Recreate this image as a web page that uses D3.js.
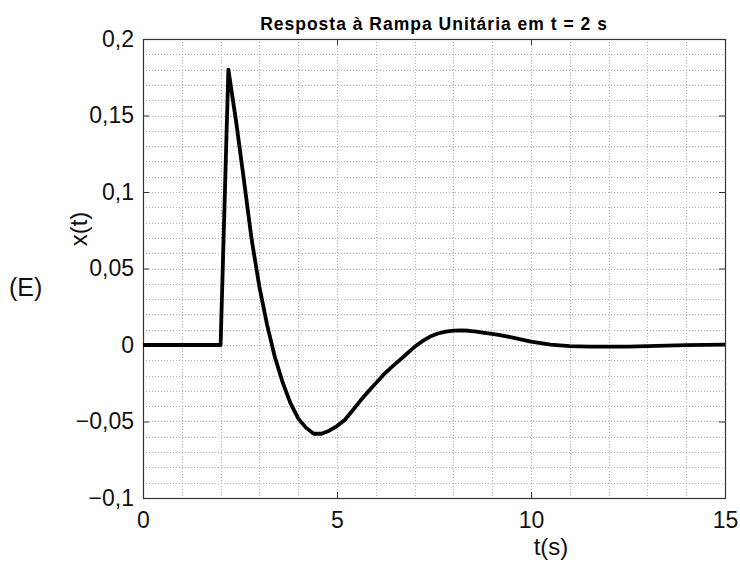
<!DOCTYPE html>
<html>
<head>
<meta charset="utf-8">
<script src="https://cdn.jsdelivr.net/npm/d3@7"></script>
<style>
  body { margin: 0; background: #fff; }
  svg { font-family: "Liberation Sans", Arial, sans-serif; }
</style>
</head>
<body>
<script>
// time samples (s)
var tData = [0, 2.0, 2.2, 2.4, 2.6, 2.8, 3.0, 3.2, 3.4, 3.6, 3.8, 4.0, 4.2, 4.4, 4.6, 4.8,
  5.0, 5.2, 5.4, 5.6, 5.8, 6.0, 6.2, 6.4, 6.6, 6.8, 7.0, 7.2, 7.4, 7.6, 7.8, 8.0, 8.2,
  8.4, 8.6, 8.8, 9.0, 9.2, 9.5, 10.0, 10.5, 11.0, 11.5, 12.0, 12.5, 13.0, 13.5, 14.0, 14.5, 15.0];
// response x(t)
var xData = [0, 0, 0.180, 0.146, 0.108, 0.069, 0.038, 0.013, -0.008, -0.0245, -0.038, -0.048,
  -0.054, -0.058, -0.058, -0.056, -0.053, -0.049, -0.0428, -0.0365, -0.0305, -0.025, -0.0194,
  -0.0146, -0.0102, -0.0057, -0.0012, 0.0025, 0.0055, 0.0075, 0.0088, 0.0094, 0.0095, 0.0093,
  0.0088, 0.008, 0.0072, 0.0064, 0.005, 0.0022, 0.0002, -0.0008, -0.001, -0.001, -0.001,
  -0.0007, -0.0004, -0.0001, 0.0001, 0.0003];

var xTicks = [0, 5, 10, 15];
var yTicks = [-0.1, -0.05, 0, 0.05, 0.1, 0.15, 0.2];
var xGrid = d3.range(1, 15, 1);
var yGrid = d3.range(-0.09, 0.2, 0.01);

var chartTitle = "Resposta à Rampa Unitária em t = 2 s";
var xLabel = "t(s)";
var yLabel = "x(t)";
var panelLabel = "(E)";

var width = 740, height = 563;
var plotL = 143, plotR = 725, plotT = 39, plotB = 498;

var svg = d3.select("body").append("svg")
  .attr("width", width)
  .attr("height", height);

var x = d3.scaleLinear().domain([0, 15]).range([plotL, plotR]);
var y = d3.scaleLinear().domain([-0.1, 0.2]).range([plotB, plotT]);

// format with comma decimal and real minus sign
function fmt(v) {
  var s = d3.format("~g")(+v.toFixed(3));
  return s.replace(".", ",").replace("-", "\u2212");
}

// dotted grid
svg.append("g").selectAll("line").data(xGrid).enter().append("line")
  .attr("x1", function(d) { return Math.round(x(d)) + 0.5; })
  .attr("x2", function(d) { return Math.round(x(d)) + 0.5; })
  .attr("y1", plotT).attr("y2", plotB)
  .attr("stroke", "#b4b4b4").attr("stroke-width", 1)
  .attr("stroke-dasharray", "1,2");

svg.append("g").selectAll("line").data(yGrid).enter().append("line")
  .attr("x1", plotL).attr("x2", plotR)
  .attr("y1", function(d) { return Math.round(y(d)) + 0.5; })
  .attr("y2", function(d) { return Math.round(y(d)) + 0.5; })
  .attr("stroke", "#b4b4b4").attr("stroke-width", 1)
  .attr("stroke-dasharray", "1,2");

// axes with inward ticks
svg.append("g").attr("transform", "translate(0," + plotB + ")")
  .call(d3.axisBottom(x).tickValues(xTicks).tickSize(-6).tickPadding(14).tickFormat(fmt))
  .call(function(g) {
    g.select(".domain").remove();
    g.selectAll("text").attr("font-size", 23).attr("fill", "#111");
    g.selectAll("line").attr("stroke", "#333");
  });

svg.append("g").attr("transform", "translate(0," + plotT + ")")
  .call(d3.axisTop(x).tickValues(xTicks).tickSize(-6).tickFormat(""))
  .call(function(g) {
    g.select(".domain").remove();
    g.selectAll("line").attr("stroke", "#333");
  });

svg.append("g").attr("transform", "translate(" + plotL + ",0)")
  .call(d3.axisLeft(y).tickValues(yTicks).tickSize(-6).tickPadding(9).tickFormat(fmt))
  .call(function(g) {
    g.select(".domain").remove();
    g.selectAll("text").attr("font-size", 23).attr("fill", "#111");
    g.selectAll("line").attr("stroke", "#333");
  });

svg.append("g").attr("transform", "translate(" + plotR + ",0)")
  .call(d3.axisRight(y).tickValues(yTicks).tickSize(-6).tickFormat(""))
  .call(function(g) {
    g.select(".domain").remove();
    g.selectAll("line").attr("stroke", "#333");
  });

// frame
svg.append("rect")
  .attr("x", plotL + 0.5).attr("y", plotT + 0.5)
  .attr("width", plotR - plotL).attr("height", plotB - plotT)
  .attr("fill", "none").attr("stroke", "#333").attr("stroke-width", 1.2);

// curve (sampled data joined by straight segments)
var pts = tData.map(function(t, i) { return [t, xData[i]]; });
var line = d3.line()
  .x(function(d) { return x(d[0]); })
  .y(function(d) { return y(d[1]); });

svg.append("path")
  .datum(pts)
  .attr("d", line)
  .attr("fill", "none")
  .attr("stroke", "#000")
  .attr("stroke-width", 3.8)
  .attr("stroke-linejoin", "round");

// texts
svg.append("text")
  .attr("x", (plotL + plotR) / 2).attr("y", 30)
  .attr("text-anchor", "middle")
  .attr("font-size", 17.5).attr("font-weight", "bold")
  .attr("letter-spacing", 1)
  .text(chartTitle);

svg.append("text")
  .attr("x", 551).attr("y", 555)
  .attr("text-anchor", "middle")
  .attr("font-size", 24).attr("fill", "#111")
  .text(xLabel);

svg.append("text")
  .attr("transform", "translate(87,229) rotate(-90)")
  .attr("text-anchor", "middle")
  .attr("font-size", 24).attr("fill", "#111")
  .text(yLabel);

svg.append("text")
  .attr("x", 9).attr("y", 296)
  .attr("font-size", 25).attr("fill", "#111")
  .text(panelLabel);
</script>
</body>
</html>
